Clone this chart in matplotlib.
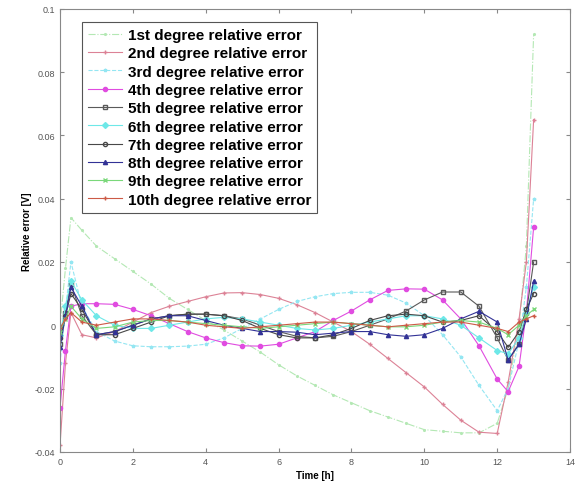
import matplotlib
matplotlib.use("Agg")
import matplotlib.pyplot as plt

# time grid [h]
t = [0, 0.15, 0.3, 0.6, 1.0, 1.5, 2.0, 2.5, 3.0, 3.5, 4.0, 4.5, 5.0, 5.5, 6.0, 6.5,
     7.0, 7.5, 8.0, 8.5, 9.0, 9.5, 10.0, 10.5, 11.0, 11.5, 12.0, 12.3, 12.6, 12.8, 13.0]

# relative error of each polynomial fit [V]
err1 = [0.000, 0.018, 0.034, 0.030, 0.025, 0.021, 0.017, 0.013, 0.0085, 0.005, 0.0015,
        -0.0015, -0.005, -0.0085, -0.0125, -0.016, -0.019, -0.022, -0.0245, -0.027, -0.029,
        -0.031, -0.033, -0.0335, -0.034, -0.034, -0.031, -0.020, 0.000, 0.025, 0.092]
err2 = [-0.038, -0.012, 0.004, -0.003, -0.004, -0.002, 0.001, 0.004, 0.006, 0.0075, 0.009,
        0.0102, 0.0103, 0.0097, 0.0085, 0.0065, 0.004, 0.001, -0.002, -0.006, -0.0105,
        -0.015, -0.0195, -0.025, -0.030, -0.0338, -0.0342, -0.018, 0.002, 0.020, 0.065]
err3 = [-0.012, 0.005, 0.020, 0.006, -0.002, -0.005, -0.0065, -0.0068, -0.0068, -0.0066,
        -0.006, -0.004, -0.001, 0.002, 0.005, 0.0075, 0.009, 0.010, 0.0104, 0.0104, 0.0095,
        0.007, 0.003, -0.003, -0.010, -0.019, -0.027, -0.020, -0.005, 0.012, 0.040]
err4 = [-0.026, -0.008, 0.006, 0.0068, 0.0068, 0.0066, 0.005, 0.003, 0.0005, -0.002, -0.004,
        -0.0055, -0.0065, -0.0066, -0.006, -0.004, -0.002, 0.0015, 0.0045, 0.008, 0.011,
        0.0115, 0.0114, 0.008, 0.002, -0.0065, -0.017, -0.021, -0.013, 0.004, 0.031]
err5 = [-0.006, 0.004, 0.013, 0.003, -0.003, -0.002, 0.000, 0.002, 0.003, 0.0035, 0.0035,
        0.003, 0.002, 0.000, -0.002, -0.0035, -0.004, -0.0035, -0.002, 0.000, 0.002, 0.0045,
        0.008, 0.0105, 0.0105, 0.006, -0.004, -0.011, -0.006, 0.004, 0.020]
err6 = [-0.003, 0.006, 0.014, 0.008, 0.003, 0.000, -0.001, -0.001, 0.000, 0.001, 0.002,
        0.0025, 0.002, 0.001, 0.000, -0.001, -0.0015, -0.001, 0.000, 0.001, 0.002, 0.003,
        0.003, 0.002, 0.000, -0.004, -0.008, -0.009, -0.004, 0.004, 0.012]
err7 = [-0.004, 0.003, 0.010, 0.005, -0.003, -0.003, -0.001, 0.001, 0.003, 0.0035, 0.0035,
        0.003, 0.0015, -0.001, -0.003, -0.004, -0.004, -0.003, -0.001, 0.0015, 0.003,
        0.0035, 0.003, 0.001, 0.0015, 0.003, -0.002, -0.007, -0.002, 0.005, 0.010]
err8 = [-0.007, 0.003, 0.012, 0.006, -0.003, -0.002, 0.000, 0.002, 0.003, 0.003, 0.0015,
        0.000, -0.001, -0.002, -0.002, -0.0022, -0.003, -0.0025, -0.002, -0.002, -0.003,
        -0.0035, -0.003, -0.001, 0.002, 0.0044, 0.001, -0.011, -0.006, 0.002, 0.014]
err9 = [-0.002, 0.002, 0.006, 0.002, -0.001, -0.0005, 0.001, 0.0015, 0.0015, 0.001, 0.0005,
        0.000, -0.0005, -0.001, -0.0005, 0.000, 0.0005, 0.001, 0.0005, 0.000, -0.0005,
        -0.0005, 0.000, 0.001, 0.0015, 0.001, -0.001, -0.003, 0.000, 0.003, 0.005]
err10 = [-0.001, 0.002, 0.004, 0.001, 0.000, 0.001, 0.002, 0.002, 0.0015, 0.001, 0.000,
         -0.0005, -0.001, -0.0005, 0.000, 0.0005, 0.001, 0.001, 0.0005, 0.000, -0.0005,
         0.000, 0.0005, 0.001, 0.001, 0.000, -0.001, -0.002, 0.001, 0.002, 0.003]

labels = ['1st degree relative error', '2nd degree relative error',
          '3rd degree relative error', '4th degree relative error',
          '5th degree relative error', '6th degree relative error',
          '7th degree relative error', '8th degree relative error',
          '9th degree relative error', '10th degree relative error']

xticks = [0, 2, 4, 6, 8, 10, 12, 14]
yticks = [-0.04, -0.02, 0, 0.02, 0.04, 0.06, 0.08, 0.1]
ytick_labels = ['-0.04', '-0.02', '0', '0.02', '0.04', '0.06', '0.08', '0.1']

series = [err1, err2, err3, err4, err5, err6, err7, err8, err9, err10]
styles = [
    dict(color='#b4e8b4', ls='-.', marker='.', ms=2.5),
    dict(color='#dc8296', ls='-', marker='+', ms=3.5),
    dict(color='#94e6f2', ls='--', marker='*', ms=2.5),
    dict(color='#e04ce0', ls='-', marker='o', ms=3),
    dict(color='#5a5a5a', ls='-', marker='s', ms=3, mfc='none'),
    dict(color='#6ee8e8', ls='-', marker='D', ms=3),
    dict(color='#484848', ls='-', marker='o', ms=3, mfc='none'),
    dict(color='#323296', ls='-', marker='^', ms=3),
    dict(color='#7ad87a', ls='-', marker='x', ms=3),
    dict(color='#cc5a46', ls='-', marker='+', ms=3.5),
]

plt.rcParams['font.family'] = ['Liberation Sans', 'DejaVu Sans']

fig = plt.figure(figsize=(5.77, 4.89), dpi=100)
ax = fig.add_axes([0.104, 0.074, 0.884, 0.906])

for vals, lab, st in zip(series, labels, styles):
    ax.plot(t, vals, label=lab, lw=0.8, **st)

ax.set_xlim(0, 14)
ax.set_ylim(-0.04, 0.1)
ax.set_xticks(xticks)
ax.set_yticks(yticks)
ax.set_yticklabels(ytick_labels)
ax.tick_params(direction='in', top=True, right=True, labelsize=6.5,
               labelcolor='#555555', color='#888888', length=3)
for sp in ax.spines.values():
    sp.set_color('#888888')

ax.set_xlabel('Time [h]', fontsize=7, fontweight='bold', labelpad=3)
ax.set_ylabel('Relative error [V]', fontsize=7, fontweight='bold', labelpad=2)

leg = ax.legend(loc='upper left', bbox_to_anchor=(0.043, 0.97), fancybox=False,
                framealpha=1, edgecolor='#555555', prop=dict(size=11, weight='bold'),
                handlelength=2.2, labelspacing=0.28, borderpad=0.4, handletextpad=0.4,
                borderaxespad=0)
leg.get_frame().set_linewidth(0.8)

fig.savefig('out.png', dpi=100)
